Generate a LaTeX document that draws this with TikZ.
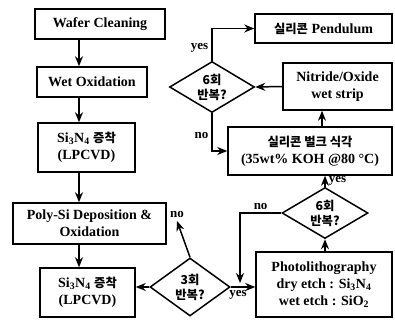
\documentclass[tikz,border=0pt]{standalone}
\usepackage{fontspec}
\setmainfont{Liberation Serif}
\newfontfamily\kr{Noto Sans CJK KR}[Scale=0.88]
\usetikzlibrary{shapes.geometric,arrows.meta}

\begin{document}
\begin{tikzpicture}[x=1pt, y=-1pt,
		box/.style={draw, line width=1.5pt, align=center, inner sep=0pt, font=\bfseries\fontsize{14}{17}\selectfont},
		rep/.style={draw, diamond, line width=1.5pt, align=center, inner sep=0pt, aspect=1.5, font=\bfseries\fontsize{14}{15}\selectfont},
		arr/.style={line width=1.5pt, -{Stealth[length=10pt, width=8pt]}},
		lbl/.style={font=\bfseries\fontsize{13}{13}\selectfont, inner sep=0pt},
	]
	\useasboundingbox (0,0) rectangle (395,320);
	\coordinate (spine) at (79,0);
	\node[box, minimum width=130, minimum height=30] (clean) at (100,24) {Wafer Cleaning};
	\node[box, minimum width=110, minimum height=30] (wetox) at (92,82) {Wet Oxidation};
	\node[box, minimum width=97, minimum height=49] (sin1) at (86.5,147.5) {Si\textsubscript{3}N\textsubscript{4} {\kr 증착}\\(LPCVD)};
	\node[box, minimum width=153, minimum height=41] (poly) at (89.5,223.5) {Poly-Si Deposition \&\\Oxidation};
	\node[box, minimum width=95, minimum height=49] (sin2) at (87.5,292.5) {Si\textsubscript{3}N\textsubscript{4} {\kr 증착}\\(LPCVD)};
	\node[rep, minimum width=80, minimum height=58] (three) at (190,287) {{\kr 3회}\\{\kr 반복?}};
	\node[box, minimum width=136, minimum height=65] (photo) at (324,284.5) {Photolithography\\dry etch : Si\textsubscript{3}N\textsubscript{4}\\wet etch : SiO\textsubscript{2}};
	\node[rep, minimum width=86, minimum height=51] (sixlow) at (325,213) {{\kr 6회}\\{\kr 반복?}};
	\node[box, minimum width=164, minimum height=48] (koh) at (310,151) {{\kr 실리콘 벌크 식각}\\(35wt\% KOH @80 °C)};
	\node[box, minimum width=109, minimum height=47] (strip) at (337.5,86.5) {Nitride/Oxide\\wet strip};
	\node[rep, minimum width=85, minimum height=51] (sixup) at (212,87) {{\kr 6회}\\{\kr 반복?}};
	\node[box, minimum width=137, minimum height=29] (pend) at (323.5,28.5) {{\kr 실리콘} Pendulum};
	\coordinate (back) at (177,221);
	\coordinate (merge) at (240,283);

	\draw[arr] (clean.south -| spine) -- (wetox.north -| spine);
	\draw[arr] (wetox.south -| spine) -- (sin1.north -| spine);
	\draw[arr] (sin1.south -| spine) -- (poly.north -| spine);
	\draw[arr] (poly.south -| spine) -- (sin2.north -| spine);
	\draw[arr] (three.west) -- (three.west -| sin2.east);
	\draw[arr] (three.north) -- (back) node[lbl, above=3pt] {no};
	\draw[arr] (three.east) -- (three.east -| photo.west) node[lbl, pos=0.3, below=3pt] {yes};
	\draw[arr] (photo.north -| sixlow) -- (sixlow.south);
	\draw[arr] (sixlow.west) -| (merge) node[lbl, pos=0.25, above=3pt] {no};
	\draw[arr] (sixlow.north) -- (sixlow.north |- koh.south) node[lbl, midway, right=3pt] {yes};
	\draw[arr] ([xshift=12]koh.north) -- ([xshift=12]koh.north |- strip.south);
	\draw[arr] (strip.west) -- (sixup.east);
	\draw[arr] (sixup.north) |- (pend.west) node[lbl, pos=0.2, left=3pt] {yes};
	\draw[arr] (sixup.south) |- (koh.west) node[lbl, pos=0.3, left=3pt] {no};
\end{tikzpicture}
\end{document}
